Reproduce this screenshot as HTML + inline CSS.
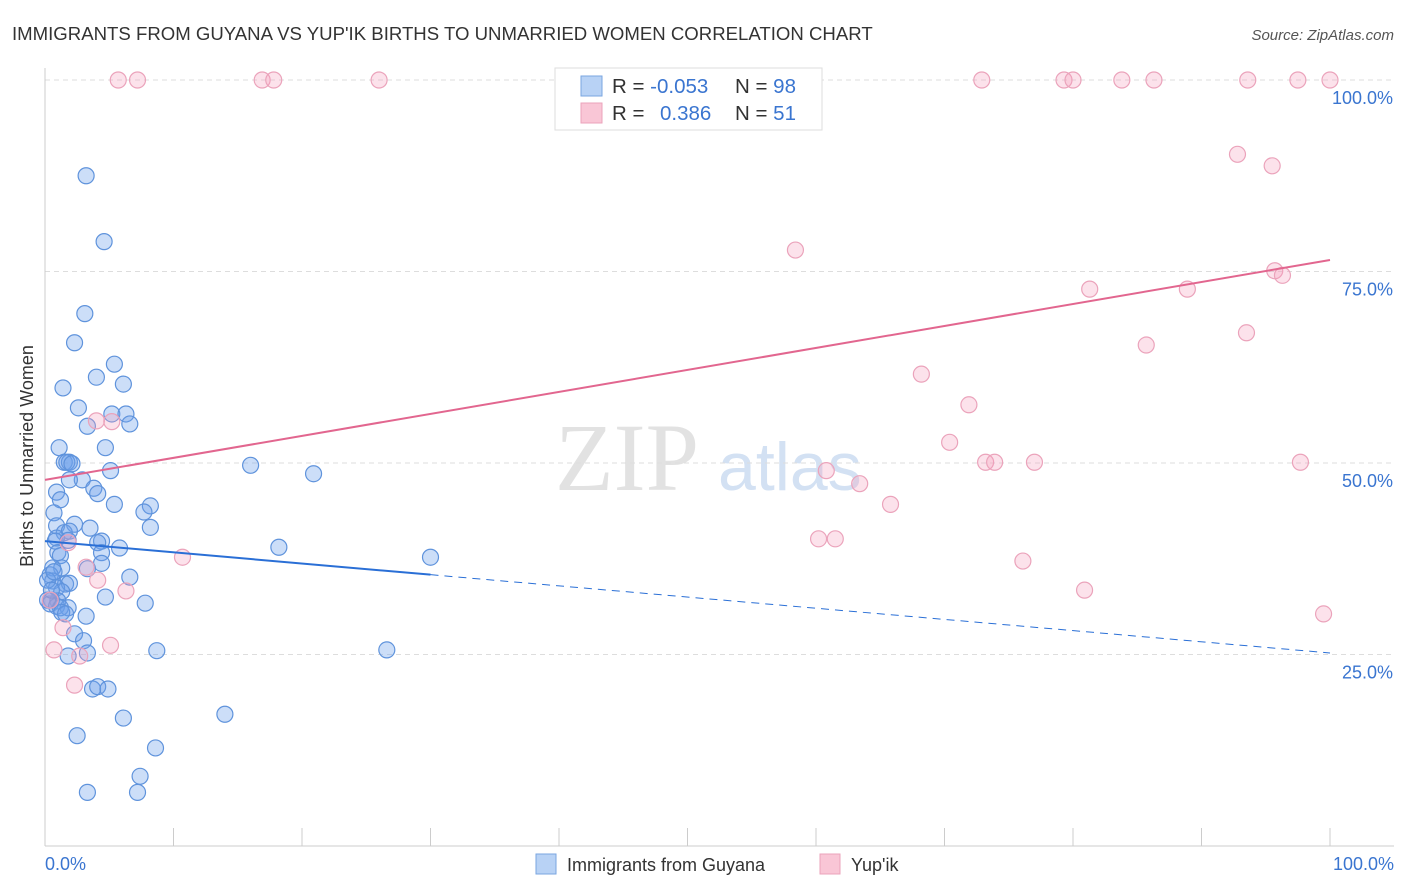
<!DOCTYPE html>
<html><head><meta charset="utf-8"><style>
body{margin:0;background:#fff;font-family:"Liberation Sans",sans-serif;}
svg{display:block}
</style></head><body>
<svg id="chart" width="1406" height="892">
<text x="12" y="40" font-size="18.6" fill="#333">IMMIGRANTS FROM GUYANA VS YUP'IK BIRTHS TO UNMARRIED WOMEN CORRELATION CHART</text>
<text x="1394" y="40" font-size="15" fill="#555" font-style="italic" text-anchor="end">Source: ZipAtlas.com</text>
<text x="33" y="456" font-size="18" fill="#333" text-anchor="middle" transform="rotate(-90 33 456)">Births to Unmarried Women</text>
<g><text x="555" y="490" font-size="96" font-family="Liberation Serif,serif" fill="#e2e2e2">ZIP</text><text x="718" y="490" font-size="68" fill="#d3e1f3">atlas</text></g>
<g id="grid"></g><g id="pts"></g><g id="trend"></g>
<g>
<rect x="555" y="68" width="267" height="62" fill="#fff" stroke="#ddd"/>
<rect x="581" y="76" width="21" height="20" fill="#b8d2f5" stroke="#7aa6e0"/>
<rect x="581" y="103" width="21" height="20" fill="#f9c6d6" stroke="#eba3bb"/>
<text x="612" y="93" font-size="20.5" fill="#333">R = <tspan fill="#3a75d0">-0.053</tspan></text>
<text x="735" y="93" font-size="20.5" fill="#333">N = <tspan fill="#3a75d0">98</tspan></text>
<text x="612" y="120" font-size="20.5" fill="#333">R = </text><text x="660" y="120" font-size="20.5" fill="#3a75d0">0.386</text>
<text x="735" y="120" font-size="20.5" fill="#333">N = <tspan fill="#3a75d0"> 51</tspan></text>
</g>
<g>
<rect x="536" y="854" width="20" height="20" fill="#b8d2f5" stroke="#7aa6e0"/>
<text x="567" y="871" font-size="18" fill="#333">Immigrants from Guyana</text>
<rect x="820" y="854" width="20" height="20" fill="#f9c6d6" stroke="#eba3bb"/>
<text x="851" y="871" font-size="18" fill="#333">Yup'ik</text>
</g>
<text x="45" y="870" font-size="18" fill="#3a75d0">0.0%</text>
<text x="1394" y="870" font-size="18" fill="#3a75d0" text-anchor="end">100.0%</text>
</svg>
<script>
const yTicks=[25,50,75,100];
const yTickLabels=["25.0%","50.0%","75.0%","100.0%"];
const blueX=[3.2,4.6,3.1,2.3,5.4,4.0,1.4,6.1,2.6,5.2,6.3,3.3,6.6,1.1,4.7,1.5,1.9,1.7,2.1,5.1,2.9,1.9,3.8,4.1,0.9,1.2,5.4,8.2,7.7,0.7,8.2,0.9,2.3,3.5,1.5,1.9,0.9,4.4,0.8,1.8,4.1,5.8,1.0,1.2,4.4,1.3,4.4,0.6,3.3,0.4,6.6,0.6,1.6,1.9,0.9,1.3,4.7,0.5,7.8,1.0,0.4,0.9,1.8,1.2,1.3,3.2,1.6,2.3,3.0,3.3,1.8,8.7,3.7,4.1,4.9,6.1,2.5,8.6,7.4,3.3,7.2,16.0,20.9,18.2,30.0,26.6,14.0,0.2,0.2,0.5,0.7];
const blueY=[87.5,78.9,69.5,65.7,62.9,61.2,59.8,60.3,57.2,56.4,56.4,54.8,55.1,52.0,52.0,50.1,50.1,50.1,49.9,49.0,47.8,47.8,46.7,46.0,46.2,45.2,44.6,44.4,43.6,43.5,41.6,41.8,42.0,41.5,40.9,41.1,40.2,39.8,39.8,39.9,39.6,38.9,38.3,37.9,38.3,36.3,36.9,36.3,36.2,35.4,35.1,34.6,34.2,34.3,33.7,33.2,32.5,32.1,31.7,32.0,31.6,31.3,31.1,31.1,30.5,30.0,30.3,27.7,26.8,25.2,24.8,25.5,20.5,20.8,20.5,16.7,14.4,12.8,9.1,7.0,7.0,49.7,48.6,39.0,37.7,25.6,17.2,32.1,34.7,33.4,35.8];
const pinkX=[5.7,7.2,16.9,17.8,26.0,55.0,72.9,79.3,80.0,83.8,86.3,93.6,97.5,100,92.8,95.5,58.4,81.3,88.9,95.7,96.3,93.5,85.7,68.2,71.9,70.4,73.2,73.9,77.0,60.8,63.4,65.8,60.2,61.5,76.1,80.9,97.7,99.5,4.0,5.2,1.8,3.2,4.1,6.3,10.7,1.4,0.7,5.1,2.7,2.3,0.4];
const pinkY=[100,100,100,100,100,100,100,100,100,100,100,100,100,100,90.3,88.8,77.8,72.7,72.7,75.1,74.5,67.0,65.4,61.6,57.6,52.7,50.1,50.1,50.1,49.0,47.3,44.6,40.1,40.1,37.2,33.4,50.1,30.3,55.5,55.4,39.6,36.4,34.7,33.3,37.7,28.5,25.6,26.2,24.8,21.0,32.1];
const blueTrend=[39.8,25.2];
const pinkTrend=[47.8,76.5];
const blueSolidEnd=30;

const X=v=>45+v*12.85, Y=v=>846-v*7.66;
const NS="http://www.w3.org/2000/svg";
function mk(tag,attrs,parent){const e=document.createElementNS(NS,tag);for(const k in attrs)e.setAttribute(k,attrs[k]);document.getElementById(parent).appendChild(e);return e;}
yTicks.forEach((t,i)=>{
 const l=mk('line',{x1:45,x2:1394,y1:Y(t),y2:Y(t),stroke:'#ddd','stroke-dasharray':'5,4'},'grid');
 
 
 const tx=mk('text',{x:1393,y:Y(t)+24,'font-size':18,fill:'#3a75d0','text-anchor':'end'},'grid');
 tx.textContent=yTickLabels[i];
 
 
});
const ax=mk('line',{x1:45,x2:1394,y1:846,y2:846,stroke:'#ccc'},'grid');


const ay=mk('line',{x1:45,x2:45,y1:68,y2:846,stroke:'#ccc'},'grid');


for(let i=0;i<=10;i++){const t=mk('line',{x1:X(i*10),x2:X(i*10),y1:828,y2:846,stroke:'#ccc'},'grid');
 
 }
blueX.forEach((v,i)=>{const c=mk('circle',{cx:X(v),cy:Y(blueY[i]),r:8,fill:'rgba(110,160,235,0.35)',stroke:'#5f93dc','stroke-width':1.2},'pts');
 
 });
pinkX.forEach((v,i)=>{const c=mk('circle',{cx:X(v),cy:Y(pinkY[i]),r:8,fill:'rgba(245,160,190,0.3)',stroke:'#eba3bb','stroke-width':1.2},'pts');
 
 });
const by=x=>blueTrend[0]+(blueTrend[1]-blueTrend[0])*x/100;
const b1=mk('line',{x1:X(0),y1:Y(by(0)),x2:X(blueSolidEnd),y2:Y(by(blueSolidEnd)),stroke:'#2a6fd6','stroke-width':2},'trend');


const b2=mk('line',{x1:X(blueSolidEnd),y1:Y(by(blueSolidEnd)),x2:X(100),y2:Y(by(100)),stroke:'#2a6fd6','stroke-width':1,'stroke-dasharray':'8,6'},'trend');


const p1=mk('line',{x1:X(0),y1:Y(pinkTrend[0]),x2:X(100),y2:Y(pinkTrend[1]),stroke:'#e2668f','stroke-width':2},'trend');


</script>
</body></html>
